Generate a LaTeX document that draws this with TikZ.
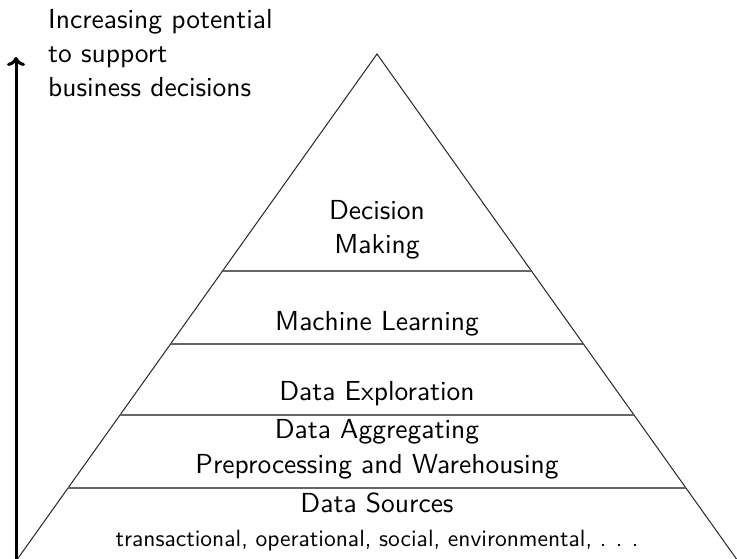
\documentclass[tikz,border=0pt]{standalone}
\usepackage{fontspec}
\setsansfont{lmsans10-regular.otf}
\usetikzlibrary{arrows.meta,calc}
\begin{document}
\begin{tikzpicture}[x=1pt,y=-1pt,
  lbl/.style={inner sep=0pt,anchor=base,font=\sffamily\fontsize{27.5}{34}\selectfont},
  sidetxt/.style={inner sep=0pt,anchor=base west,font=\sffamily\fontsize{27.5}{34}\selectfont},
  smalltxt/.style={inner sep=0pt,anchor=base,font=\sffamily\fontsize{23.5}{28}\selectfont},
  side/.style={line width=1pt,black!85},
  layer/.style={line width=1.3pt,black!60},
  axis/.style={line width=3pt,-{To[length=9pt,width=18pt]}}]
\useasboundingbox (0,0) rectangle (737,559);
\coordinate (apex) at (377,54);
\coordinate (bl) at (17.5,559);
\coordinate (br) at (736.5,559);
\draw[side] (bl) -- (apex) -- (br);
\foreach \t/\n in {0.4297/a,0.5743/b,0.7149/c,0.8594/d}{
  \coordinate (l\n) at ($(apex)!\t!(bl)$);
  \coordinate (r\n) at ($(apex)!\t!(br)$);
  \draw[layer] (l\n) -- (r\n);
}
\coordinate (axbot) at (16,559);
\coordinate (axtop) at (16,57);
\draw[axis] (axbot) -- (axtop);
\node[sidetxt] (s1) at (48,29) {Increasing potential};
\node[sidetxt] (s2) at (48,63) {to support};
\node[sidetxt] (s3) at (48,97) {business decisions};
\node[lbl] (dm1) at (377,219) {Decision};
\node[lbl] (dm2) at (377,253) {Making};
\node[lbl] (ml) at (377,330) {Machine Learning};
\node[lbl] (de) at (377,400) {Data Exploration};
\node[lbl] (da1) at (377,438) {Data Aggregating};
\node[lbl] (da2) at (377,473) {Preprocessing and Warehousing};
\node[lbl] (ds) at (377,512) {Data Sources};
\node[smalltxt] (dsx) at (377,546) {transactional, operational, social, environmental, .\hspace{0.4em}.\hspace{0.4em}.};
\end{tikzpicture}
\end{document}
